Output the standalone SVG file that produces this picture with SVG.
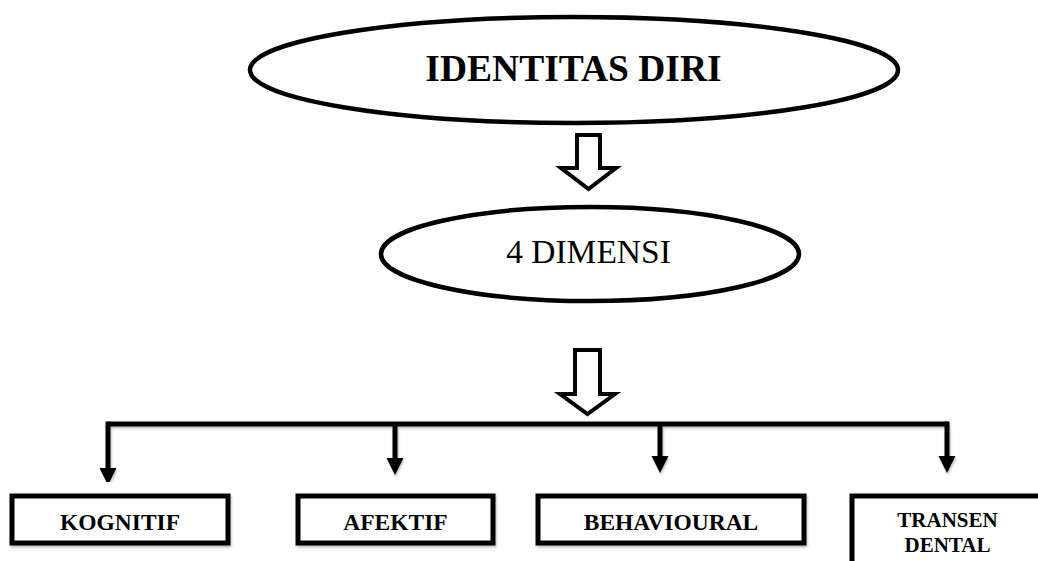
<svg xmlns="http://www.w3.org/2000/svg" width="1038" height="561" viewBox="0 0 1038 561">
  <style>
    .oval { fill: #ffffff; stroke: #000000; stroke-width: 4.5; }
    .box { fill: #ffffff; stroke: #000000; stroke-width: 5; filter: url(#shadow); }
    .hollow { fill: #ffffff; stroke: #000000; stroke-width: 4; stroke-linejoin: miter; }
    .wire { fill: none; stroke: #000000; stroke-width: 5; stroke-linejoin: miter; }
    .title { font-family: "Liberation Serif", "Times New Roman", serif; font-weight: bold; font-size: 37.5px; fill: #000000; text-anchor: middle; }
    .sub { font-family: "Liberation Serif", "Times New Roman", serif; font-size: 33.5px; fill: #000000; text-anchor: middle; }
    .lbl { font-family: "Liberation Serif", "Times New Roman", serif; font-weight: bold; font-size: 23.5px; fill: #000000; text-anchor: middle; }
    .lbl-sm { font-family: "Liberation Serif", "Times New Roman", serif; font-weight: bold; font-size: 21px; fill: #000000; text-anchor: middle; }
  </style>
  <defs>
    <filter id="shadow" x="-10%" y="-20%" width="120%" height="150%">
      <feDropShadow dx="1" dy="2" stdDeviation="1" flood-color="#000000" flood-opacity="0.25"/>
    </filter>
    <marker id="head" markerUnits="userSpaceOnUse" markerWidth="18" markerHeight="18" refX="0" refY="8.5" orient="auto">
      <path d="M0,0 L17,8.5 L0,17 Z" fill="#000000"/>
    </marker>
  </defs>

  <rect width="1038" height="561" fill="#ffffff"/>

  <!-- top node -->
  <g id="identitas-diri">
    <ellipse class="oval" cx="574" cy="70" rx="324" ry="53"/>
    <text class="title" x="573.5" y="81">IDENTITAS DIRI</text>
  </g>

  <!-- middle node -->
  <g id="empat-dimensi">
    <ellipse class="oval" cx="590" cy="254" rx="209" ry="47"/>
    <text class="sub" x="588.5" y="263">4 DIMENSI</text>
  </g>

  <!-- leaf nodes -->
  <g id="kognitif">
    <rect class="box" x="12" y="496" width="216" height="47"/>
    <text class="lbl" x="120" y="530">KOGNITIF</text>
  </g>
  <g id="afektif">
    <rect class="box" x="298" y="496" width="195" height="47"/>
    <text class="lbl" x="395.5" y="530">AFEKTIF</text>
  </g>
  <g id="behavioural">
    <rect class="box" x="538" y="496" width="266" height="47"/>
    <text class="lbl" x="671" y="530">BEHAVIOURAL</text>
  </g>
  <g id="transendental">
    <rect class="box" x="852" y="496" width="200" height="80"/>
    <text class="lbl-sm" x="947.5" y="527">TRANSEN</text>
    <text class="lbl-sm" x="947.5" y="552">DENTAL</text>
  </g>

  <!-- connectors -->
  <g id="connectors">
    <polygon class="hollow" points="577,135 600,135 600,168 616,168 588.5,189 561,168 577,168"/>
    <polygon class="hollow" points="575,350 600,350 600,394 615,394 587.5,414 560,394 575,394"/>
    <g filter="url(#shadow)">
      <path class="wire" d="M108,424 H947"/>
      <path class="wire" d="M108,421.5 V468" marker-end="url(#head)"/>
      <path class="wire" d="M395,424 V458" marker-end="url(#head)"/>
      <path class="wire" d="M660,424 V456" marker-end="url(#head)"/>
      <path class="wire" d="M947,421.5 V456" marker-end="url(#head)"/>
    </g>
  </g>
</svg>
